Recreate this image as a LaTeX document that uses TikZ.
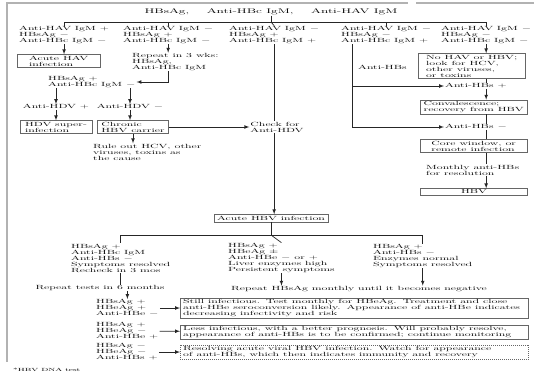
\documentclass[tikz,border=0pt]{standalone}
\usepackage{tikz}
\usetikzlibrary{positioning}
\tikzset{
	test/.style={rectangle, align=left, inner xsep=1pt, inner ysep=1pt, font=\fontsize{12}{12}\selectfont},
	result/.style={draw=black!60, rectangle, align=left, inner xsep=3pt, inner ysep=3pt, font=\fontsize{12}{12}\selectfont},
	link/.style={black!85, line width=0.7pt},
	frame/.style={draw=black!30, line width=2pt}
}
\begin{document}
\begin{tikzpicture}[x=1pt, y=-2pt, yscale=0.5, transform shape]
	\useasboundingbox (0,0) rectangle (534,376);
	% page frame
	\draw[frame] (6,3) -- (408,3);
	\draw[frame] (416,3) -- (534,3);
	\draw[frame] (7,3) -- (7,362);

	\node (top) [test, font=\fontsize{13.5}{12}\selectfont] at (271,12) {HBsAg,\hspace{1.3em}Anti-HBc IgM,\hspace{1.3em}Anti-HAV IgM};
	\coordinate (split) at (271,22);

	\node (a) [test, anchor=west] at (18,35) {Anti-HAV IgM +\\HBsAg $-$\\Anti-HBc IgM $-$};
	\node (b) [test, anchor=west] at (122,35) {Anti-HAV IgM $-$\\HBsAg +\\Anti-HBc IgM $-$};
	\node (c) [test, anchor=west] at (228,35) {Anti-HAV IgM $-$\\HBsAg +\\Anti-HBc IgM +};
	\node (d) [test, anchor=west] at (340,35) {Anti-HAV IgM $-$\\HBsAg $-$\\Anti-HBc IgM +};
	\node (e) [test, anchor=west] at (440,35) {Anti-HAV IgM $-$\\HBsAg $-$\\Anti-HBc IgM $-$};

	% hepatitis A / carrier branch
	\node (hav) [result, anchor=west, minimum width=83pt] at (17,61) {Acute HAV\\infection};
	\node (rep) [test, anchor=west] at (131,62) {Repeat in 3 wks:\\HBsAg,\\Anti-HBc IgM};
	\node (n1) [test, anchor=west] at (47,82) {HBsAg +\\Anti-HBc IgM $-$};
	\node (hdvp) [test] at (56,107) {Anti-HDV +};
	\node (hdvn) [test] at (130,107) {Anti-HDV $-$};
	\node (sup) [result, minimum width=72pt] at (56,127) {HDV super-\\infection};
	\node (carrier) [result, minimum width=71pt] at (133,127) {Chronic\\HBV carrier};
	\node (rule) [test, anchor=west] at (92,152) {Rule out HCV, other\\viruses, toxins as\\the cause};

	% acute hepatitis B
	\node (clab) [test] at (277,127) {Check for\\Anti-HDV};
	\node (hbv) [result, minimum width=92pt, align=center] at (271,218) {Acute HBV infection};
	\coordinate (split2) at (271,235);

	\node (p1) [test, anchor=west] at (70,258) {HBsAg +\\Anti-HBc IgM\\Anti-HBs $-$\\Symptoms resolved\\Recheck in 3 mos};
	\node (p2) [test, anchor=west] at (227,258) {HBsAg +\\HBeAg $\pm$\\Anti-HBe $-$ or +\\Liver enzymes high\\Persistent symptoms};
	\node (p3) [test, anchor=west] at (372,256) {HBsAg +\\Anti-HBs $-$\\Enzymes normal\\Symptoms resolved};
	\node (rep6) [test] at (100,288) {Repeat tests in 6 months};
	\node (monthly) [test, anchor=west] at (230,289) {Repeat HBsAg monthly until it becomes negative};

	\node (q1) [test, anchor=west] at (95,308) {HBsAg +\\HBeAg +\\Anti-HBe $-$};
	\node (q2) [test, anchor=west] at (95,331) {HBsAg +\\HBeAg $-$\\Anti-HBe +};
	\node (q3) [test, anchor=west] at (95,352) {HBsAg $-$\\HBeAg $-$\\Anti-HBs +};
	\node (bx1) [result, anchor=west, text width=342pt] at (180,308) {Still infectious. Test monthly for HBeAg. Treatment and close\\anti-HBe seroconversion likely. Appearance of anti-HBe indicates\\decreasing infectivity and risk};
	\node (bx2) [result, anchor=west, text width=342pt] at (180,332) {Less infectious, with a better prognosis. Will probably resolve,\\appearance of anti-HBs is to be confirmed; continue monitoring};
	\node (bx3) [result, anchor=west, text width=342pt, dash pattern=on 1pt off 1pt] at (180,352) {Resolving acute viral HBV infection. Watch for appearance\\of anti-HBs, which then indicates immunity and recovery};

	% no HAV, no HBsAg
	\node (r1) [result, anchor=west, minimum width=107pt] at (418,66) {No HAV or HBV;\\look for HCV,\\other viruses,\\or toxins};
	\node (la) [test] at (476,86) {Anti-HBs +};
	\node (r2) [result, anchor=west, minimum width=107pt] at (420,107) {Convalescence;\\recovery from HBV};
	\node (lb) [test] at (476,127) {Anti-HBs $-$};
	\node (r3) [result, anchor=west, minimum width=107pt] at (420,146) {Core window, or\\remote infection};
	\node (mon) [test, anchor=west] at (425,170) {Monthly anti-HBs\\for resolution};
	\node (fin) [result, minimum width=107pt, align=center] at (474,192) {HBV};
	\node (hbs) [test, anchor=west] at (357,67) {Anti-HBs};

	\node (foot) [test, anchor=west, font=\fontsize{9}{9}\selectfont] at (12,370) {*HBV DNA test};

	\begin{scope}[link]
		\draw (top) -- (split);
		\draw (split) -| (a.north);
		\draw (split) -| (b.north);
		\draw (split) -- (c.north);
		\draw (split) -| (d.north);
		\draw (split) -| (e.north);
		\draw (c) -- (c |- clab.north);
		\draw (hbv) -- (split2);
		\draw (split2) -| (p1.north);
		\draw (split2) -- (p2.north);
		\draw (split2) -| (p3.north);
		\draw (p1) -- (p1 |- rep6.north);
		\draw (r1.south -| e) -- (e |- la.north);
		\draw (e |- r2.south) -- (e |- lb.north);
		\draw (e |- lb.south) -- (e |- r3.north);
		\draw (e |- r3.south) -- (e |- mon.north);
	\end{scope}

	\begin{scope}[link, ->, >=latex]
		\draw (a) -- (a |- hav.north);
		\draw (b) -- (b |- rep.north);
		\draw (rep.south -| b) |- (n1.east);
		\draw (n1.south -| hdvp) -- (hdvp);
		\draw (n1.south -| hdvn) -- (hdvn);
		\draw (hdvp) -- (sup);
		\draw (hdvn) -- (hdvn |- carrier.north);
		\draw (carrier) -- (carrier |- rule.north);
		\draw (carrier) -- (clab);
		\draw (c |- clab.south) -- (c |- hbv.north);
		\draw (q1 |- rep6.south) -- (q1);
		\draw (p2) -- (p2 |- monthly.north);
		\draw (p3) -- (p3 |- monthly.north);
		\draw (q1) -- (bx1);
		\draw (q2) -- (bx2);
		\draw (q3) -- (bx3);
		\draw (e) -- (e |- r1.north);
		\draw (e |- la.south) -- (e |- r2.north);
		\draw (e |- mon.south) -- (e |- fin.north);
		\draw ([xshift=12pt]d.south west) |- (la);
		\draw ([xshift=12pt]d.south west) |- (lb);
	\end{scope}
\end{tikzpicture}
\end{document}
